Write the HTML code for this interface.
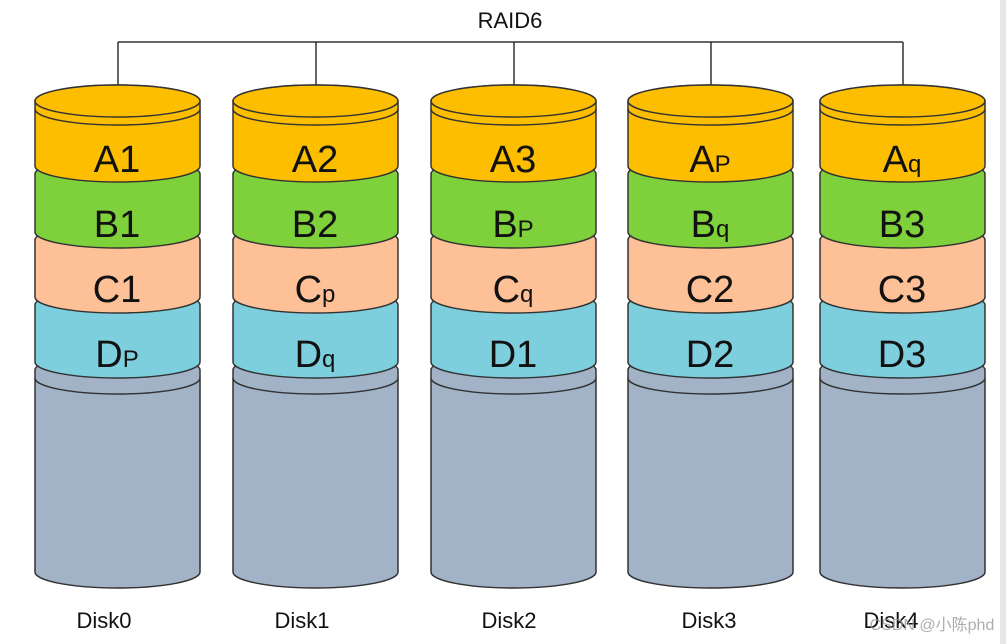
<!DOCTYPE html>
<html><head><meta charset="utf-8"><style>
html,body{margin:0;padding:0;background:#fff;}
svg{display:block;}
text{font-family:"Liberation Sans",sans-serif;fill:#111;}
</style></head><body>
<svg width="1006" height="644" viewBox="0 0 1006 644" xmlns="http://www.w3.org/2000/svg">
<rect x="1000" y="0" width="6" height="644" fill="#e6e6e6"/>
<defs>
<g id="cyl" stroke="#333" stroke-width="1.5">
  <path d="M0,370 A82.5,16 0 0 1 165,370 L165,572 A82.5,16 0 0 1 0,572 Z" fill="#a2b3c8"/>
  <path d="M0,378 A82.5,16 0 0 0 165,378" fill="none"/>
  <path d="M0,305 A82.5,16 0 0 1 165,305 L165,362 A82.5,16 0 0 1 0,362 Z" fill="#7ecfdd"/>
  <path d="M0,240 A82.5,16 0 0 1 165,240 L165,297 A82.5,16 0 0 1 0,297 Z" fill="#fec197"/>
  <path d="M0,174 A82.5,16 0 0 1 165,174 L165,232 A82.5,16 0 0 1 0,232 Z" fill="#7ed13a"/>
  <path d="M0,101 A82.5,16 0 0 1 165,101 L165,166 A82.5,16 0 0 1 0,166 Z" fill="#fdbe00"/>
  <ellipse cx="82.5" cy="101" rx="82.5" ry="16" fill="#fdbe00"/>
  <path d="M0,109 A82.5,16 0 0 0 165,109" fill="none"/>
</g>
</defs>
<g stroke="#333" stroke-width="1.5" fill="none">
  <path d="M118,42 H903"/>
  <path d="M118,42 V85 M316,42 V85 M514,42 V85 M711,42 V85 M903,42 V85"/>
</g>
<text x="510" y="28" font-size="22" text-anchor="middle">RAID6</text>
<use href="#cyl" x="35"/>
<use href="#cyl" x="233"/>
<use href="#cyl" x="431"/>
<use href="#cyl" x="628"/>
<use href="#cyl" x="820"/>
<g font-size="38" text-anchor="middle">
  <text x="117" y="172">A1</text><text x="117" y="237">B1</text><text x="117" y="302">C1</text><text x="117" y="367">D<tspan font-size="24">P</tspan></text>
  <text x="315" y="172">A2</text><text x="315" y="237">B2</text><text x="315" y="302">C<tspan font-size="24">p</tspan></text><text x="315" y="367">D<tspan font-size="24">q</tspan></text>
  <text x="513" y="172">A3</text><text x="513" y="237">B<tspan font-size="24">P</tspan></text><text x="513" y="302">C<tspan font-size="24">q</tspan></text><text x="513" y="367">D1</text>
  <text x="710" y="172">A<tspan font-size="24">P</tspan></text><text x="710" y="237">B<tspan font-size="24">q</tspan></text><text x="710" y="302">C2</text><text x="710" y="367">D2</text>
  <text x="902" y="172">A<tspan font-size="24">q</tspan></text><text x="902" y="237">B3</text><text x="902" y="302">C3</text><text x="902" y="367">D3</text>
</g>
<g font-size="22" text-anchor="middle">
  <text x="104" y="628">Disk0</text>
  <text x="302" y="628">Disk1</text>
  <text x="509" y="628">Disk2</text>
  <text x="709" y="628">Disk3</text>
  <text x="891" y="628">Disk4</text>
</g>
<text x="932" y="630" font-size="16" text-anchor="middle" style="font-family:'Liberation Sans','Noto Sans CJK SC',sans-serif;fill:#999;opacity:0.8">CSDN @小陈phd</text>
</svg>
</body></html>
